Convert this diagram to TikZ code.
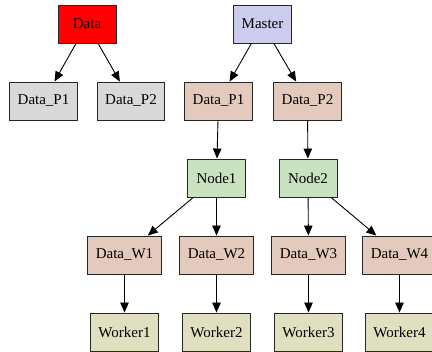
\documentclass[tikz,border=0pt]{standalone}
\usepackage{fontspec}
\setmainfont{Liberation Serif}
\usepackage{xcolor}
\usepackage{tikz}
\usetikzlibrary{arrows.meta}
\definecolor{redfill}{HTML}{FF0000}
\definecolor{grayfill}{HTML}{D9D9D9}
\definecolor{masterfill}{HTML}{CCCCEE}
\definecolor{partfill}{HTML}{E3CABD}
\definecolor{nodefill}{HTML}{C9E2C0}
\definecolor{workerfill}{HTML}{E0E0C0}
\tikzstyle{box} = [draw=black!85, line width=0.9pt, rectangle, minimum width=58pt, minimum height=38pt, inner xsep=8pt, font=\fontsize{15}{18}\selectfont]
\tikzstyle{arrow} = [line width=0.9pt, -{Triangle[length=10pt,width=8.5pt]}]

\begin{document}
\begin{tikzpicture}[x=1pt, y=-1pt]
    \useasboundingbox (0,0) rectangle (432,352);
    % Data side
    \node[box, fill=redfill] (data) at (87,24) {Data};
    \node[box, fill=grayfill] (dp1) at (43.5,101) {Data\_P1};
    \node[box, fill=grayfill] (dp2) at (131,101) {Data\_P2};
    \draw[arrow] (data) -- (dp1);
    \draw[arrow] (data) -- (dp2);
    % Master side
    \node[box, fill=masterfill] (master) at (262.5,24) {Master};
    \node[box, fill=partfill] (mp1) at (218.5,101) {Data\_P1};
    \node[box, fill=partfill] (mp2) at (307.5,101) {Data\_P2};
    \node[box, fill=nodefill] (node1) at (216.5,178) {Node1};
    \node[box, fill=nodefill] (node2) at (308,178) {Node2};
    \node[box, fill=partfill] (w1) at (124.5,255) {Data\_W1};
    \node[box, fill=partfill] (w2) at (216.5,255) {Data\_W2};
    \node[box, fill=partfill] (w3) at (308.5,255) {Data\_W3};
    \node[box, fill=partfill] (w4) at (399.5,255) {Data\_W4};
    \node[box, fill=workerfill] (wk1) at (124.5,332) {Worker1};
    \node[box, fill=workerfill] (wk2) at (216.5,332) {Worker2};
    \node[box, fill=workerfill] (wk3) at (308.5,332) {Worker3};
    \node[box, fill=workerfill] (wk4) at (399.5,332) {Worker4};
    \draw[arrow] (master) -- (mp1);
    \draw[arrow] (master) -- (mp2);
    \draw[arrow] (mp1) -- (node1);
    \draw[arrow] (mp2) -- (node2);
    \draw[arrow] (node1) -- (w1);
    \draw[arrow] (node1) -- (w2);
    \draw[arrow] (node2) -- (w3);
    \draw[arrow] (node2) -- (w4);
    \draw[arrow] (w1) -- (wk1);
    \draw[arrow] (w2) -- (wk2);
    \draw[arrow] (w3) -- (wk3);
    \draw[arrow] (w4) -- (wk4);
\end{tikzpicture}
\end{document}
